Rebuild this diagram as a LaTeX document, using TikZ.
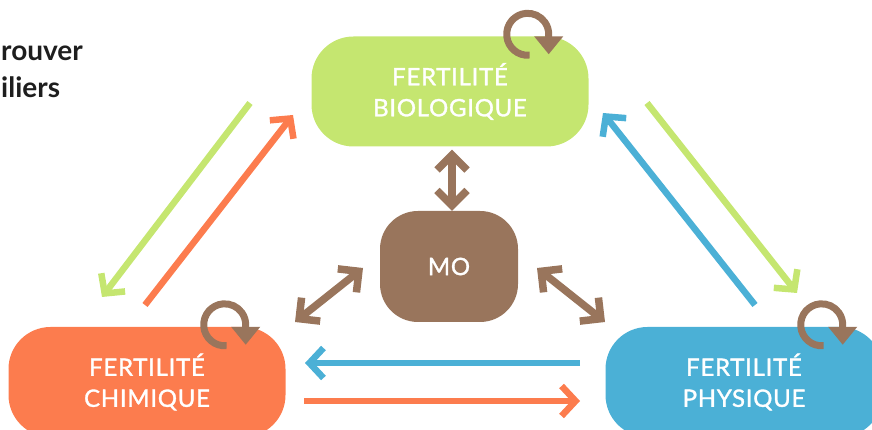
\documentclass[tikz,border=0pt]{standalone}
\usepackage{fontspec}
\setmainfont{Lato}
\newfontfamily\boxfont[LetterSpace=3,FakeBold=1.3]{Lato}
\usetikzlibrary{arrows.meta,calc}
\definecolor{bioGreen}{RGB}{197,230,112}
\definecolor{chimOrange}{RGB}{252,124,78}
\definecolor{physBlue}{RGB}{75,176,214}
\definecolor{moBrown}{RGB}{153,117,92}
\definecolor{darkText}{RGB}{30,30,30}
\tikzset{
  fertbox/.style={rounded corners=42pt, minimum width=277pt, minimum height=110pt,
    text=white, align=center, font=\boxfont\fontsize{24}{31}\selectfont},
  flow/.style={line width=6.5pt, -{Straight Barb[length=14pt,width=30pt]}},
  exchange/.style={moBrown, line width=7.5pt, {Straight Barb[length=15pt,width=30pt]}-{Straight Barb[length=15pt,width=30pt]}},
  cycle/.style={moBrown, line width=7pt, -{Triangle[length=18pt,width=28pt]}}
}
\newcommand\recycle[1]{%
  \draw[cycle] ($(#1.north east)+(-61,2)$) ++(275:21) arc[start angle=275, end angle=0, radius=21] -- ++(0,-20);}
\begin{document}
\begin{tikzpicture}[x=1pt,y=1pt]
  \useasboundingbox (0,0) rectangle (872,430);
  \clip (0,0) rectangle (872,430);
  % title, cut at the left edge
  \node[anchor=base west, inner sep=0pt, text=darkText, font=\bfseries\fontsize{28}{36}\selectfont] (trouver) at (1,369) {rouver};
  \node[anchor=base west, inner sep=0pt, text=darkText, font=\bfseries\fontsize{28}{36}\selectfont] (piliers) at (1,332) {iliers};
  % the three fertilities and the organic matter
  \node[fertbox, fill=bioGreen] (bio) at (450,338.5) {FERTILITÉ\\BIOLOGIQUE};
  \node[fertbox, fill=chimOrange] (chim) at (147,48) {FERTILITÉ\\CHIMIQUE};
  \node[fertbox, fill=physBlue] (phys) at (744,48) {FERTILITÉ\\PHYSIQUE};
  \node[fill=moBrown, rounded corners=38pt, minimum width=138pt, minimum height=111pt,
    text=white, font=\boxfont\fontsize{24}{31}\selectfont] (mo) at (449,163.5) {MO};
  % arrow ends
  \coordinate (bioL1) at (250,327);
  \coordinate (chimL1) at (102,133);
  \coordinate (chimL2) at (145,125);
  \coordinate (bioL2) at (293,315);
  \coordinate (physR1) at (755,125);
  \coordinate (bioR1) at (603,317);
  \coordinate (bioR2) at (647,327);
  \coordinate (physR2) at (797,137);
  \coordinate (physH) at (580,67);
  \coordinate (chimH) at (305,67);
  \coordinate (chimH2) at (304,29);
  \coordinate (physH2) at (580,29);
  \coordinate (moL) at (363,162);
  \coordinate (chimM) at (295,108);
  \coordinate (moR) at (537,162);
  \coordinate (physM) at (605,108);
  % exchanges between fertilities
  \draw[flow, bioGreen] (bioL1) -- (chimL1);
  \draw[flow, chimOrange] (chimL2) -- (bioL2);
  \draw[flow, physBlue] (physR1) -- (bioR1);
  \draw[flow, bioGreen] (bioR2) -- (physR2);
  \draw[flow, physBlue] (physH) -- (chimH);
  \draw[flow, chimOrange] (chimH2) -- (physH2);
  % organic matter links
  \draw[exchange] ([xshift=2pt,yshift=-3pt]bio.south) -- ([xshift=3pt]mo.north);
  \draw[exchange] (moL) -- (chimM);
  \draw[exchange] (moR) -- (physM);
  % loops on each fertility
  \recycle{bio}
  \recycle{chim}
  \recycle{phys}
\end{tikzpicture}
\end{document}
